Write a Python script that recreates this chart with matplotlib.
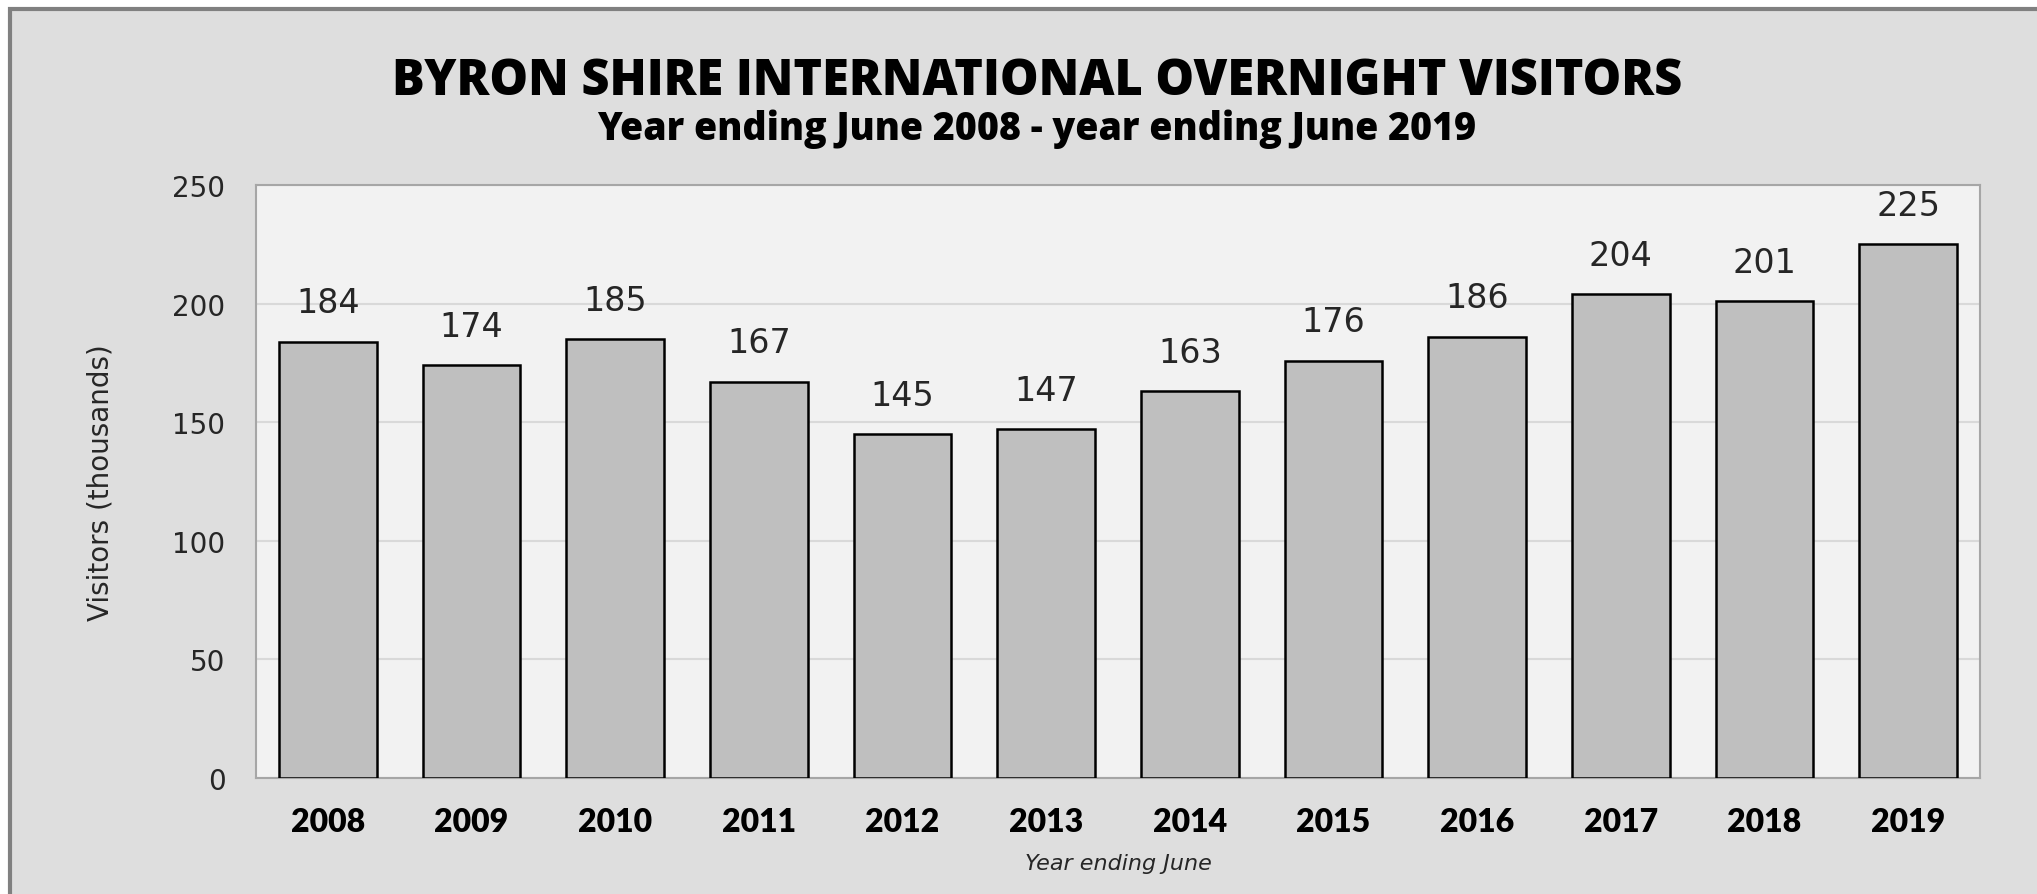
import matplotlib
matplotlib.use("Agg")
import matplotlib.pyplot as plt
from matplotlib.patches import Rectangle

# Byron Shire international overnight visitors (thousands), year ending June
years = ["2008", "2009", "2010", "2011", "2012", "2013",
         "2014", "2015", "2016", "2017", "2018", "2019"]
visitors = [184, 174, 185, 167, 145, 147, 163, 176, 186, 204, 201, 225]
y_ticks = [0, 50, 100, 150, 200, 250]

W, H, DPI = 2037, 895, 100
fig = plt.figure(figsize=(W / DPI, H / DPI), dpi=DPI, facecolor="white")

TEXT = "#262626"

# Grey chart panel with a darker frame
panel = Rectangle((10 / W, -0.05), 1.2, 1 - 10 / H + 0.05,
                  transform=fig.transFigure, facecolor="#dedede",
                  edgecolor="#808080", linewidth=3, zorder=-10)
fig.patches.append(panel)

ax = fig.add_axes([256 / W, 1 - 779 / H, (1980 - 256) / W, (779 - 186) / H])
ax.set_facecolor("#f2f2f2")
for s in ax.spines.values():
    s.set_color("#a6a6a6")
    s.set_linewidth(1.5)

x = range(len(years))
bars = ax.bar(x, visitors, width=0.68, color="#bfbfbf",
              edgecolor="black", linewidth=1.8, zorder=3)

ax.set_xlim(-0.5, len(years) - 0.5)
ax.set_ylim(0, 250)
ax.set_yticks(y_ticks)
ax.grid(axis="y", color="#d9d9d9", linewidth=1.5, zorder=0)
ax.set_axisbelow(True)

ax.set_xticks(list(x))
ax.set_xticklabels(years, fontsize=23, fontweight="heavy",
                   family=["Lato", "DejaVu Sans"])
ax.tick_params(axis="x", length=0, pad=21)
ax.tick_params(axis="y", length=0, pad=22, labelsize=20, labelcolor=TEXT)
for lbl in ax.get_yticklabels():
    lbl.set_family(["DejaVu Sans"])

for xi, v in zip(x, visitors):
    ax.annotate(f"{v}", (xi, v), xytext=(0, 28), textcoords="offset points",
                ha="center", va="center", fontsize=24, color=TEXT,
                family=["DejaVu Sans"])

ax.set_ylabel("Visitors (thousands)", fontsize=20, color=TEXT,
              family=["DejaVu Sans"])
ax.yaxis.set_label_coords((114 - 256) / (1980 - 256), 0.5)

fig.text(1037 / W, 1 - 82 / H, "BYRON SHIRE INTERNATIONAL OVERNIGHT VISITORS",
         ha="center", va="center", fontsize=35, fontweight="heavy",
         family=["Open Sans", "DejaVu Sans"])
fig.text(1037 / W, 1 - 129 / H, "Year ending June 2008 - year ending June 2019",
         ha="center", va="center", fontsize=27, fontweight="heavy",
         family=["Open Sans", "DejaVu Sans"])
fig.text((256 + 1980) / 2 / W, 1 - 864 / H, "Year ending June",
         ha="center", va="center", fontsize=16, style="italic",
         color=TEXT, family=["DejaVu Sans"])

fig.savefig("out.png", dpi=DPI, facecolor="white")
